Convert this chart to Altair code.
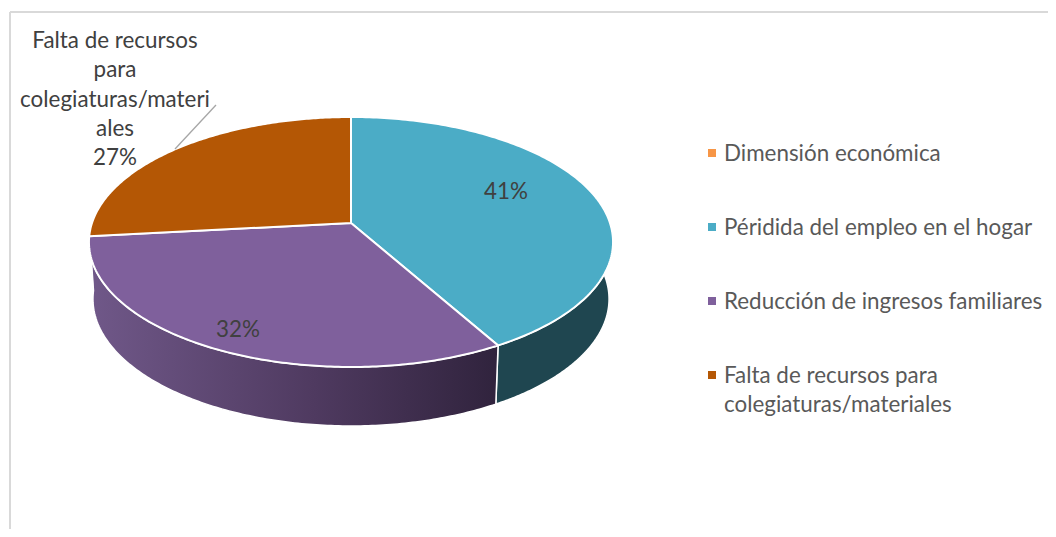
import math
import altair as alt

# ---- data ----
names = ["Dimensión económica", "Péridida del empleo en el hogar",
         "Reducción de ingresos familiares", "Falta de recursos para colegiaturas/materiales"]
shares = [0.0, 41.8, 31.5, 26.7]
colors = ["#F79646", "#4BACC6", "#7F609C", "#B45705"]
side_colors = ["#F79646", "#1F4650", "#4F3A60", "#7A3B03"]

legend_y = [154, 228, 302, 376]
legend_lines = [["Dimensión económica"], ["Péridida del empleo en el hogar"],
                ["Reducción de ingresos familiares"], ["Falta de recursos para", "colegiaturas/materiales"]]
callout_lines = ["Falta de recursos", "para", "colegiaturas/materi", "ales", "27%"]
pct_labels = [("41%", 506, 192), ("32%", 238, 330)]

W, H = 1040, 521
OX, OY = 8, 8
CX, VY = 351, 223      # pie vertex
K = -0.152
A = 122.1
B = 259.0
# lower rim of the wall
RIM_CY, RIM_RY, LOW_CY, LOW_RY, RIM_RX, LOW_RX = 242, 125, 299, 127, 262, 258


def rim(theta):
    u, v = -math.cos(theta), math.sin(theta)
    d = 1 + K * u
    return (CX + B * v / d - OX, VY + A * u / d - OY)


def low(p):
    x, y = p[0] + OX, p[1] + OY
    return (CX + (x - CX) * LOW_RX / RIM_RX - OX, LOW_CY + (y - RIM_CY) * LOW_RY / RIM_RY - OY)


def arc(t0, t1, n=160):
    return [t0 + (t1 - t0) * i / n for i in range(n + 1)]


def feature(name, pts):
    ring = [list(p) for p in pts]
    ring.append(ring[0])
    return {"type": "Feature", "properties": {"name": name},
            "geometry": {"type": "Polygon", "coordinates": [ring]}}


tops, sides = [], []
acc = 0.0
for name, s in zip(names, shares):
    if s == 0:
        continue
    t0, t1 = acc / 100 * 2 * math.pi, (acc + s) / 100 * 2 * math.pi
    acc += s
    tops.append(feature(name, [(CX - OX, VY - OY)] + [rim(t) for t in arc(t0, t1)]))
    a, b = max(t0, math.radians(85)), min(t1, math.radians(265))
    if a < b:
        upper = [rim(t) for t in arc(a, b)]
        sides.append((name, feature(name, upper + [low(p) for p in reversed(upper)])))

proj = alt.Projection(type="identity", scale=1, translate=[0, 0])


def geo(features, **mark):
    return alt.Chart(alt.Data(values=features)).mark_geoshape(**mark).project(**proj.to_dict())


layers = []
xs = alt.X("x:Q", scale=alt.Scale(domain=[OX, OX + W], range=[0, W]), axis=None)
ys = alt.Y("y:Q", scale=alt.Scale(domain=[OY, OY + H], range=[0, H]), axis=None)

# frame
frame = alt.Chart(alt.Data(values=[
    {"x": 10, "y": 12, "x2": 1048, "y2": 12},
    {"x": 10, "y": 12, "x2": 10, "y2": 529},
])).mark_rule(color="#D9D9D9", strokeWidth=2).encode(x=xs, y=ys, x2="x2:Q", y2="y2:Q")
layers.append(frame)

# walls
for name, f in sides:
    col = side_colors[names.index(name)]
    if name.startswith("Reducción"):
        fill = alt.Gradient(gradient="linear", x1=0, x2=1, y1=0, y2=0,
                            stops=[alt.GradientStop(color="#705889", offset=0),
                                   alt.GradientStop(color="#4F3A60", offset=0.55),
                                   alt.GradientStop(color="#30233D", offset=1)])
    else:
        fill = col
    layers.append(geo([f], fill=fill, stroke="#FFFFFF", strokeWidth=1.5))

# top faces
for f in tops:
    col = colors[names.index(f["properties"]["name"])]
    layers.append(geo([f], fill=col, stroke="#FFFFFF", strokeWidth=2))

# callout leader
layers.append(alt.Chart(alt.Data(values=[{"x": 216, "y": 105, "x2": 175, "y2": 149}]))
              .mark_rule(color="#A6A6A6", strokeWidth=1.3).encode(x=xs, y=ys, x2="x2:Q", y2="y2:Q"))

FONT = "Lato"
SIZE = 22.4
rows = [{"t": t, "x": 115, "y": 41 + 29.3 * i} for i, t in enumerate(callout_lines)]
layers.append(alt.Chart(alt.Data(values=rows)).mark_text(font=FONT, fontSize=SIZE, color="#404040",
                                                         align="center", baseline="middle")
              .encode(x=xs, y=ys, text="t:N"))
rows = [{"t": t, "x": x, "y": y} for t, x, y in pct_labels]
layers.append(alt.Chart(alt.Data(values=rows)).mark_text(font=FONT, fontSize=SIZE, color="#404040",
                                                         align="center", baseline="middle")
              .encode(x=xs, y=ys, text="t:N"))

# legend
rows = [{"x": 712, "y": y - 1, "c": c} for y, c in zip(legend_y, colors)]
layers.append(alt.Chart(alt.Data(values=rows)).mark_square(size=64, opacity=1)
              .encode(x=xs, y=ys, color=alt.Color("c:N", scale=None, legend=None)))
rows = []
for y, lines in zip(legend_y, legend_lines):
    for i, t in enumerate(lines):
        rows.append({"t": t, "x": 724, "y": y + 29.3 * i})
layers.append(alt.Chart(alt.Data(values=rows)).mark_text(font=FONT, fontSize=SIZE, color="#595959",
                                                         align="left", baseline="middle")
              .encode(x=xs, y=ys, text="t:N"))

chart = alt.layer(*layers).properties(
    width=W, height=H, padding=0, autosize=alt.AutoSizeParams(type="none"), background="#FFFFFF",
).configure_view(stroke=None)

chart.save("out.html", embed_options={"renderer": "svg", "actions": False})
